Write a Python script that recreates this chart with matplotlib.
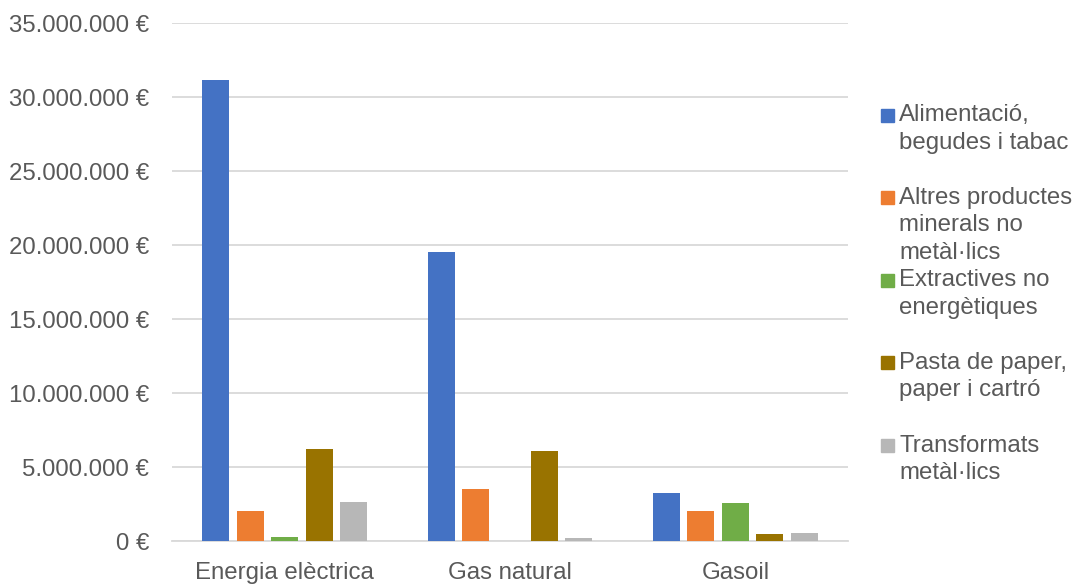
import matplotlib
matplotlib.use("Agg")
import matplotlib.pyplot as plt
from matplotlib.patches import Rectangle
from matplotlib.ticker import FuncFormatter, MultipleLocator
import numpy as np

plt.rcParams['font.family'] = ['Liberation Sans', 'DejaVu Sans']

categories = ["Energia elèctrica", "Gas natural", "Gasoil"]
series_names = [
    "Alimentació,\nbegudes i tabac",
    "Altres productes\nminerals no\nmetàl·lics",
    "Extractives no\nenergètiques",
    "Pasta de paper,\npaper i cartró",
    "Transformats\nmetàl·lics",
]
alimentacio = [31_150_000, 19_520_000, 3_270_000]
altres_minerals = [2_030_000, 3_480_000, 2_030_000]
extractives = [250_000, 0, 2_570_000]
pasta_paper = [6_250_000, 6_070_000, 470_000]
transformats = [2_640_000, 230_000, 520_000]
series_values = [alimentacio, altres_minerals, extractives, pasta_paper, transformats]
colors = ["#4472C4", "#ED7D31", "#70AD47", "#997300", "#B7B7B7"]

W, H = 1077, 586
fig = plt.figure(figsize=(W / 100, H / 100), dpi=100)
ax = fig.add_axes([172 / W, 1 - 541 / H, (848 - 172) / W, (541 - 23) / H])

text_color = "#595959"
grid_color = "#D9D9D9"
fs = 17.3

x = np.arange(len(categories))
bar_w = 0.12
pitch = 0.153
n = len(series_values)
for i, (vals, col) in enumerate(zip(series_values, colors)):
    ax.bar(x + (i - (n - 1) / 2) * pitch, vals, width=bar_w, color=col, zorder=3)

ax.set_xlim(-0.5, len(categories) - 0.5)
ax.set_ylim(0, 35_000_000)
ax.yaxis.set_major_locator(MultipleLocator(5_000_000))
ax.yaxis.set_major_formatter(
    FuncFormatter(lambda v, p: "{:,.0f} €".format(v).replace(",", "."))
)
ax.set_xticks(x)
ax.set_xticklabels(categories)
ax.grid(axis="y", color=grid_color, linewidth=1.3, zorder=0)
ax.set_axisbelow(True)
for s in ["left", "right", "top"]:
    ax.spines[s].set_visible(False)
ax.spines["bottom"].set_color(grid_color)
ax.spines["bottom"].set_linewidth(1.3)
ax.tick_params(axis="y", length=0, pad=16.5, labelsize=fs, labelcolor=text_color)
ax.tick_params(axis="x", length=0, pad=15, labelsize=fs, labelcolor=text_color)

# Legend drawn in figure pixel coordinates
first_y = 115
step = 82.5
for i, (name, col) in enumerate(zip(series_names, colors)):
    yc = first_y + i * step
    fig.patches.append(Rectangle((881 / W, 1 - (yc + 6.5) / H), 13 / W, 13 / H,
                                 transform=fig.transFigure, color=col))
    fig.text(899 / W, 1 - (yc - 10.5) / H, name, fontsize=fs, color=text_color,
             va="top", ha="left", linespacing=1.31)

fig.savefig("out.png", dpi=100)
